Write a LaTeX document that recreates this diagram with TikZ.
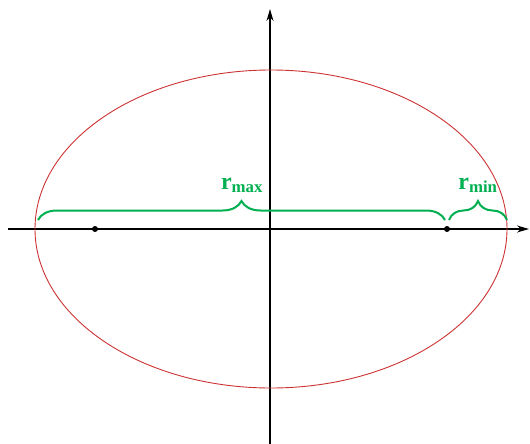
\documentclass[tikz,border=0pt]{standalone}
\usepackage{fontspec}
\setmainfont{Liberation Serif}
\usetikzlibrary{decorations.pathreplacing,arrows.meta}
\definecolor{orbitred}{RGB}{205,50,50}
\definecolor{bracegreen}{RGB}{0,176,80}
\tikzset{
  axis/.style={line width=1.3pt, black, -{Stealth[length=12pt,width=7pt]}},
  orbit/.style={line width=0.9pt, orbitred},
  bracepath/.style={line width=2pt, bracegreen, decorate, decoration={brace, amplitude=19pt}},
  lbl/.style={bracegreen, font=\fontsize{24}{26}\selectfont\bfseries, inner sep=0pt},
  focus/.style={circle, fill=black, minimum size=6pt, inner sep=0pt}
}
\begin{document}
\begin{tikzpicture}[x=1pt,y=-1pt]
\useasboundingbox (0,0) rectangle (530,444);
\coordinate (xl) at (8,229);
\coordinate (xr) at (529,229);
\coordinate (yb) at (270,444);
\coordinate (yt) at (270,9);
\draw[axis] (xl) -- (xr);
\draw[axis] (yb) -- (yt);
\draw[orbit] (271,229) ellipse [x radius=236, y radius=159];
\node[focus] (f1) at (95,229) {};
\node[focus] (f2) at (447,229) {};
\coordinate (b1s) at (38,220);
\coordinate (b1e) at (445,220);
\coordinate (b2s) at (449,220);
\coordinate (b2e) at (507,220);
\draw[bracepath] (b1s) -- (b1e);
\draw[bracepath] (b2s) -- (b2e);
\node[lbl, anchor=base] (rmax) at (242,189) {r\textsubscript{max}};
\node[lbl, anchor=base] (rmin) at (478,189) {r\textsubscript{min}};
\end{tikzpicture}
\end{document}
